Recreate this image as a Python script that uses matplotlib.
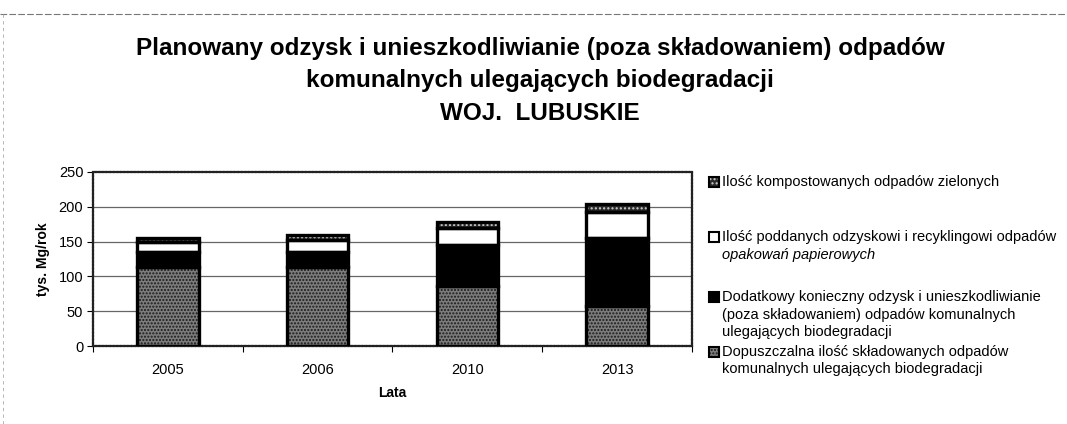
import matplotlib
matplotlib.use("Agg")
import matplotlib.pyplot as plt
from matplotlib.lines import Line2D
from matplotlib.patches import Rectangle
import numpy as np

plt.rcParams['font.family'] = ['Liberation Sans', 'DejaVu Sans']
plt.rcParams['hatch.linewidth'] = 1.0

# data (tys. Mg/rok)
lata = ['2005', '2006', '2010', '2013']
dopuszczalna = [114, 114, 86, 57]
dodatkowy = [21, 21, 59, 98]
papier = [14, 18, 24, 37]
kompost = [6, 7, 9, 12]

W, H = 1067, 424
fig = plt.figure(figsize=(W / 100, H / 100), dpi=100)
ax = fig.add_axes([93 / W, 1 - 346 / H, (692 - 93) / W, (346 - 172) / H])

x = np.arange(len(lata))
bw = 0.41

# series styling: face colour, hatch, hatch colour
series = [
    (dopuszczalna, '#7c7c7c', '.....', '#1a1a1a'),
    (dodatkowy, '#000000', None, '#000000'),
    (papier, '#ffffff', None, '#000000'),
    (kompost, '#2a2a2a', '....', '#d0d0d0'),
]

bottom = np.zeros(len(lata))
for vals, fc, hatch, hc in series:
    vals = np.array(vals, dtype=float)
    ax.bar(x, vals, bw, bottom=bottom, color=fc, hatch=hatch,
           edgecolor=hc, linewidth=0, zorder=2)
    bottom += vals
# thick black outlines around each segment
bottom = np.zeros(len(lata))
for vals, *_ in series:
    vals = np.array(vals, dtype=float)
    ax.bar(x, vals, bw, bottom=bottom, fill=False, edgecolor='black',
           linewidth=2.4, zorder=3)
    bottom += vals

ax.set_xlim(-0.5, len(lata) - 0.5)
ax.set_ylim(0, 250)
ax.set_yticks([0, 50, 100, 150, 200, 250])
ax.set_xticks(x)
ax.set_xticklabels(lata, fontsize=10.5)
ax.set_xticks(np.arange(-0.5, len(lata)), minor=True)
ax.tick_params(axis='x', which='major', length=0, pad=12)
ax.tick_params(axis='x', which='minor', length=4, width=0.8)
ax.tick_params(axis='y', length=4, width=0.8, labelsize=10.5, pad=3)

for yv in [50, 100, 150, 200]:
    ax.axhline(yv, color='#666666', linewidth=0.9, zorder=1)

for s in ax.spines.values():
    s.set_linewidth(1.6)
    s.set_linestyle((0, (1, 0.6)))
    s.set_color('#222222')

ax.set_xlabel('Lata', fontsize=10, fontweight='bold', labelpad=7)
ax.set_ylabel('tys. Mg/rok', fontsize=10, fontweight='bold', labelpad=6)

# title
title_lines = ['Planowany odzysk i unieszkodliwianie (poza składowaniem) odpadów',
               'komunalnych ulegających biodegradacji',
               'WOJ.  LUBUSKIE']
for line, yp in zip(title_lines, [49, 81, 113]):
    fig.text(540 / W, 1 - yp / H, line, ha='center', va='center',
             fontsize=17.5, fontweight='bold')

# legend (drawn by hand to keep the uneven spacing and the italic line)
legend_entries = [
    (series[3], [('Ilość kompostowanych odpadów zielonych', 'normal')], 182),
    (series[2], [('Ilość poddanych odzyskowi i recyklingowi odpadów', 'normal'),
                 ('opakowań papierowych', 'italic')], 237),
    (series[1], [('Dodatkowy konieczny odzysk i unieszkodliwianie', 'normal'),
                 ('(poza składowaniem) odpadów komunalnych', 'normal'),
                 ('ulegających biodegradacji', 'normal')], 297),
    (series[0], [('Dopuszczalna ilość składowanych odpadów', 'normal'),
                 ('komunalnych ulegających biodegradacji', 'normal')], 352),
]
for (vals, fc, hatch, hc), lines, y0 in legend_entries:
    r = Rectangle((709 / W, 1 - (y0 + 5) / H), 10 / W, 10 / H,
                  transform=fig.transFigure, facecolor=fc, hatch=hatch,
                  edgecolor=hc, linewidth=0)
    fig.add_artist(r)
    fig.add_artist(Rectangle((709 / W, 1 - (y0 + 5) / H), 10 / W, 10 / H,
                             transform=fig.transFigure, fill=False,
                             edgecolor='black', linewidth=1.5))
    for i, (txt, st) in enumerate(lines):
        fig.text(722 / W, 1 - (y0 + i * 17.5) / H, txt, ha='left', va='center',
                 fontsize=10.5, style=st)

# outer frame remnants
fig.add_artist(Line2D([0, 1], [1 - 14 / H, 1 - 14 / H], transform=fig.transFigure,
                      color='#777777', linewidth=0.8, linestyle=(0, (6, 2))))
fig.add_artist(Line2D([3 / W, 3 / W], [0, 1 - 14 / H], transform=fig.transFigure,
                      color='#aaaaaa', linewidth=0.6, linestyle=(0, (4, 4))))

fig.savefig('out.png', dpi=100)
